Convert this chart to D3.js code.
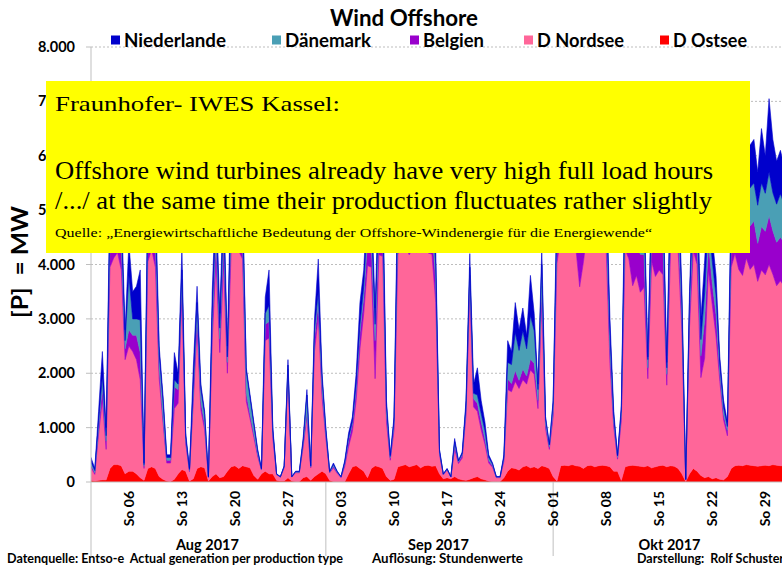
<!DOCTYPE html>
<html><head><meta charset="utf-8">
<script src="https://cdn.jsdelivr.net/npm/d3@7/dist/d3.min.js"></script>
<style>
body{margin:0;background:#fff;}
svg{display:block;font-family:Lato,'Open Sans',sans-serif;}
</style>
</head><body>
<svg id="chart" width="782" height="567"></svg>
<script>
// Hourly data sampled every 12 h, starting 2017-08-01 00:00 (MW)
const ostsee = [30,20,30,40,40,250,320,320,300,150, 200,200,150,80,30,250,280,250,100,50,
 20,10,50,150,230,200,20,60,250,280, 260,20,100,150,80,100,200,280,300,250,
 300,280,260,120,50,150,200,150,150,30, 20,20,80,20,10,10,80,100,30,100,
 150,200,150,30,10,10,10,10,150,280, 300,250,200,80,250,300,280,250,100,30,
 50,280,300,320,280,300,320,260,300,310, 290,300,150,60,80,60,100,60,40,30,
 50,80,100,60,40,20,10,10,10,80, 200,260,250,220,280,300,260,280,250,300,
 280,250,100,20,300,310,300,320,300,290, 250,300,310,280,300,310,300,280,200,200,
 30,280,300,310,300,290,280,300,260,280, 300,310,280,300,290,250,150,10,150,250,
 200,120,80,100,60,80,50,40,100,250, 300,310,300,320,310,300,290,300,310,300,
 320,310,300,300];
const nordsee = [240,120,850,1460,560,3700,3800,3900,3600,2100, 2300,2200,2100,1800,220,3800,4000,3700,1800,1050,
 330,340,1300,1300,3200,500,170,1400,2600,1050, 700,60,2500,3900,2300,3900,1800,4000,4100,4000,
 3800,1200,900,700,420,70,2400,2500,650,100, 70,240,1900,70,160,160,560,1100,230,2300,
 2900,1350,650,140,250,150,70,280,500,650, 1200,2200,2900,3900,3700,1600,3900,3900,1000,370,
 900,3900,4100,4000,3900,4000,3900,4000,4000,3900, 3900,3000,350,70,140,30,500,280,400,1200,
 3500,1300,1200,900,650,330,260,70,70,300, 1500,1400,1600,1500,1600,1500,1800,1700,1100,3000,
 700,350,1100,4000,4200,4300,4300,4200,4000,3300, 3800,4300,4300,4200,4300,4200,4000,1900,800,220,
 1100,4000,3800,3300,3500,3200,3300,1600,3800,3500, 3600,3500,1500,4000,4200,4000,2600,30,2700,4000,
 3800,1800,2200,3800,3200,2600,1800,1100,750,3700, 3900,3600,3500,3800,3600,3700,3400,3600,3500,3700,
 3500,3300,3400,3300];
const belgien = [40,30,120,250,150,500,500,500,450,200, 300,300,450,500,40,450,500,450,200,100,
 50,50,400,250,300,70,20,150,250,150, 100,10,300,450,250,450,200,500,550,500,
 400,150,80,60,40,10,300,300,80,10, 5,20,100,5,10,10,60,100,20,250,
 250,150,80,10,30,20,10,50,120,130, 200,300,300,450,450,700,500,500,150,40,
 100,500,550,500,500,500,500,500,550,500, 500,400,40,10,10,5,80,30,50,100,
 250,150,150,150,100,50,30,10,10,50, 200,150,200,150,200,150,200,200,150,300,
 80,40,100,400,500,500,500,500,550,900, 700,500,500,500,500,500,450,250,100,30,
 100,500,700,700,600,700,600,200,500,700, 700,600,200,500,500,500,250,5,250,500,
 500,400,700,500,400,400,150,100,100,500, 600,700,800,700,800,800,700,800,800,900,
 800,800,800,800];
const daenemark = [60,40,100,200,100,400,400,400,350,150, 1000,300,300,600,30,400,450,400,250,300,
 50,50,130,100,170,60,20,140,200,220, 180,5,200,400,200,400,100,450,500,450,
 500,400,300,170,60,10,200,300,60,5, 0,10,70,0,10,10,50,300,10,150,
 200,200,70,10,30,10,5,30,50,50, 100,150,200,400,400,300,400,400,150,30,
 80,450,450,450,450,500,450,450,450,450, 400,300,30,5,10,0,60,15,30,80,
 150,100,150,150,150,50,30,5,5,30, 300,350,700,550,700,500,800,600,200,400,
 100,40,150,400,450,450,450,450,450,450, 450,450,450,450,450,450,400,270,100,30,
 100,450,600,700,700,800,600,150,500,500, 500,500,120,450,450,450,250,0,200,450,
 450,300,500,450,400,350,150,130,70,450, 500,600,700,700,700,700,700,800,700,800,
 700,700,800,700];
const niederlande = [80,40,200,450,150,450,500,500,450,200, 600,500,600,920,30,500,550,500,150,100,
 50,50,500,200,400,70,20,350,300,100, 60,5,400,500,270,500,200,550,550,550,
 300,70,60,50,30,10,300,650,60,5, 5,10,100,5,10,10,50,100,10,200,
 600,100,50,10,30,10,5,30,80,90, 200,400,300,500,500,300,500,500,100,30,
 70,500,550,550,500,550,500,550,550,500, 500,300,30,5,10,5,60,15,30,90,
 250,170,500,240,160,50,20,5,5,40, 400,240,550,380,420,250,740,320,100,300,
 40,20,50,400,550,550,550,550,550,550, 550,550,550,550,550,550,500,300,100,20,
 70,500,550,600,550,500,500,50,500,500, 500,500,100,500,550,500,250,5,200,500,
 600,380,600,500,440,370,150,130,80,500, 600,700,700,700,790,800,610,1000,690,1350,
 980,790,800,700];

const seriesNames = ["D Ostsee","D Nordsee","Belgien","Dänemark","Niederlande"];
const seriesColors = ["#ff0000","#ff6699","#9900cc","#4a9fb5","#0000cc"];
const legendNames = ["Niederlande","Dänemark","Belgien","D Nordsee","D Ostsee"];
const sundayDays = ["2017-08-06","2017-08-13","2017-08-20","2017-08-27","2017-09-03","2017-09-10","2017-09-17","2017-09-24","2017-10-01","2017-10-08","2017-10-15","2017-10-22","2017-10-29"];
const sundayLabels = ["So 06","So 13","So 20","So 27","So 03","So 10","So 17","So 24","So 01","So 08","So 15","So 22","So 29"];
const monthStarts = ["2017-08-01","2017-09-01","2017-10-01","2017-11-01"];
const monthLabels = ["Aug 2017","Sep 2017","Okt 2017"];
const yTicks = [0,1000,2000,3000,4000,5000,6000,7000,8000];

(function () {
const svg = d3.select("#chart");
const W = 782;
const mLeft = 91, mBottom = 482, mTop = 47;
const parse = d3.utcParse("%Y-%m-%d");
const t0 = parse("2017-08-01"), tEnd = parse("2017-11-01");
const x = d3.scaleUtc().domain([t0, tEnd]).range([mLeft, 788]);
const y = d3.scaleLinear().domain([0, 8000]).range([mBottom, mTop]);
const loc = d3.formatLocale({decimal:",", thousands:".", grouping:[3], currency:["","€"]});
const fmt = loc.format(",d");

const arrays = [ostsee, nordsee, belgien, daenemark, niederlande];
const rows = ostsee.map((_, i) => {
  const r = {date: new Date(t0.getTime() + i * 12 * 3600 * 1000)};
  seriesNames.forEach((k, j) => r[k] = arrays[j][i]);
  return r;
});

// grid
svg.append("g").selectAll("line").data(yTicks.filter(d => d > 0)).join("line")
  .attr("x1", mLeft).attr("x2", W).attr("y1", d => y(d)).attr("y2", d => y(d))
  .attr("stroke", "#bdbdbd").attr("stroke-width", 1).attr("stroke-dasharray", "2,2");

svg.append("clipPath").attr("id", "clip").append("rect")
  .attr("x", mLeft).attr("y", mTop - 5).attr("width", W - mLeft).attr("height", mBottom - mTop + 5);

const stacked = d3.stack().keys(seriesNames)(rows);
const area = d3.area().x(d => x(d.data.date)).y0(d => y(d[0])).y1(d => y(d[1]));
svg.append("g").attr("clip-path", "url(#clip)").selectAll("path").data(stacked).join("path")
  .attr("d", area).attr("fill", (d, i) => seriesColors[i])
  .attr("stroke", (d, i) => seriesColors[i]).attr("stroke-width", 0.6);

// axes lines
svg.append("line").attr("x1", mLeft).attr("x2", W).attr("y1", mBottom).attr("y2", mBottom).attr("stroke", "#bfbfbf");
svg.append("line").attr("x1", mLeft).attr("x2", mLeft).attr("y1", mTop).attr("y2", 556).attr("stroke", "#bfbfbf");
svg.append("g").selectAll("line").data(monthStarts.slice(1, 3)).join("line")
  .attr("x1", d => x(parse(d))).attr("x2", d => x(parse(d))).attr("y1", mBottom).attr("y2", 556)
  .attr("stroke", "#bfbfbf");
svg.append("g").selectAll("line").data(yTicks).join("line")
  .attr("x1", mLeft - 5).attr("x2", mLeft).attr("y1", d => y(d)).attr("y2", d => y(d)).attr("stroke", "#bfbfbf");

// y tick labels
svg.append("g").selectAll("text").data(yTicks).join("text")
  .attr("x", 75).attr("y", d => y(d) + 5).attr("text-anchor", "end")
  .attr("font-size", 14.5).attr("font-weight", "bold").attr("fill", "#000")
  .text(d => fmt(d));

// x tick labels
svg.append("g").selectAll("text").data(sundayDays).join("text")
  .attr("transform", d => `translate(${x(parse(d)) + 5},491) rotate(-90)`)
  .attr("text-anchor", "end").attr("font-size", 14).attr("font-weight", "bold")
  .text((d, i) => sundayLabels[i]);

// month labels
svg.append("g").selectAll("text").data(monthLabels).join("text")
  .attr("x", (d, i) => (x(parse(monthStarts[i])) + x(parse(monthStarts[i + 1]))) / 2 - 1)
  .attr("y", 550).attr("text-anchor", "middle").attr("font-size", 14.5).attr("font-weight", "bold")
  .text(d => d);

// footer
const foot = svg.append("g").attr("font-size", 13).attr("font-weight", "bold");
foot.append("text").attr("x", 7).attr("y", 563).attr("textLength", 336).attr("lengthAdjust", "spacingAndGlyphs")
  .attr("xml:space", "preserve").text("Datenquelle: Entso-e  Actual generation per production type");
foot.append("text").attr("x", 372).attr("y", 563).attr("textLength", 151).attr("lengthAdjust", "spacingAndGlyphs")
  .text("Auflösung: Stundenwerte");
foot.append("text").attr("x", 637).attr("y", 563).attr("textLength", 147).attr("lengthAdjust", "spacingAndGlyphs")
  .attr("xml:space", "preserve").text("Darstellung:  Rolf Schuster");

// y axis title
svg.append("text").attr("transform", "translate(28,262) rotate(-90)").attr("text-anchor", "middle")
  .attr("font-size", 23).attr("font-weight", "bold").attr("xml:space", "preserve")
  .attr("textLength", 112).attr("lengthAdjust", "spacingAndGlyphs")
  .text("[P]  = MW");

// title
svg.append("text").attr("x", 404).attr("y", 26).attr("text-anchor", "middle")
  .attr("font-size", 22).attr("font-weight", "bold").attr("textLength", 148).attr("lengthAdjust", "spacingAndGlyphs")
  .text("Wind Offshore");

// legend
const legX = [111, 272, 410, 524, 660];
const legW = [102, 86, 61, 87, 74];
const leg = svg.append("g").selectAll("g").data(legendNames).join("g")
  .attr("transform", (d, i) => `translate(${legX[i]},0)`);
leg.append("rect").attr("x", 0).attr("y", 35.5).attr("width", 9).attr("height", 9)
  .attr("fill", d => seriesColors[seriesNames.indexOf(d)]);
leg.append("text").attr("x", 13).attr("y", 47).attr("font-size", 19).attr("font-weight", "bold")
  .attr("textLength", (d, i) => legW[i]).attr("lengthAdjust", "spacingAndGlyphs").text(d => d);

// yellow note box
const note = svg.append("g");
note.append("rect").attr("x", 46).attr("y", 81).attr("width", 704).attr("height", 172).attr("fill", "#ffff00");
const serif = "'Liberation Serif','Times New Roman',serif";
note.append("text").attr("x", 55).attr("y", 111).attr("font-family", serif).attr("font-size", 22)
  .attr("textLength", 285).attr("lengthAdjust", "spacingAndGlyphs").text("Fraunhofer- IWES Kassel:");
note.append("text").attr("x", 55).attr("y", 179).attr("font-family", serif).attr("font-size", 24.5)
  .attr("textLength", 658).attr("lengthAdjust", "spacingAndGlyphs").text("Offshore wind turbines already have very high full load hours");
note.append("text").attr("x", 55).attr("y", 209).attr("font-family", serif).attr("font-size", 24.5)
  .attr("textLength", 657).attr("lengthAdjust", "spacingAndGlyphs").text("/.../ at the same time their production fluctuates rather slightly");
note.append("text").attr("x", 55).attr("y", 237).attr("font-family", serif).attr("font-size", 12.5)
  .attr("textLength", 597).attr("lengthAdjust", "spacingAndGlyphs").text("Quelle: „Energiewirtschaftliche Bedeutung der Offshore-Windenergie für die Energiewende“");
})();
</script>
</body></html>
